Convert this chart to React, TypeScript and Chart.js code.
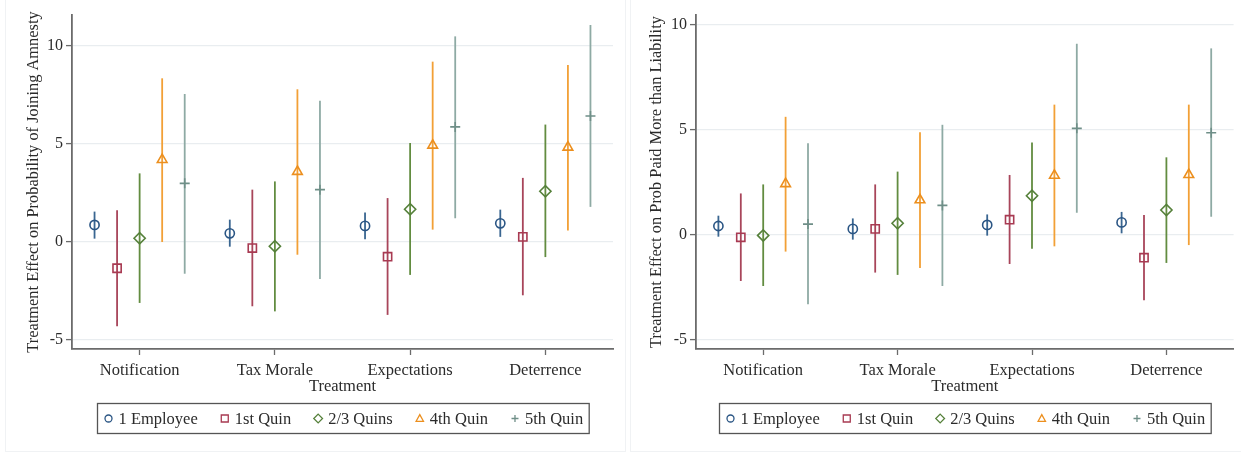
import React, { useEffect, useRef } from 'react';
import { Chart, registerables } from 'chart.js';

Chart.register(...registerables);

// ---------- data ----------
const CATEGORIES = ['Notification', 'Tax Morale', 'Expectations', 'Deterrence'];
const SERIES = ['1 Employee', '1st Quin', '2/3 Quins', '4th Quin', '5th Quin'];
const Y_TICKS = [-5, 0, 5, 10];

// Panel A: Treatment Effect on Probability of Joining Amnesty
const A_EMP1_EST = [0.87, 0.44, 0.82, 0.95];
const A_EMP1_LO = [0.17, -0.24, 0.14, 0.26];
const A_EMP1_HI = [1.55, 1.14, 1.51, 1.65];
const A_Q1_EST = [-1.34, -0.31, -0.75, 0.26];
const A_Q1_LO = [-4.3, -3.28, -3.72, -2.72];
const A_Q1_HI = [1.62, 2.67, 2.24, 3.27];
const A_Q23_EST = [0.19, -0.22, 1.67, 2.59];
const A_Q23_LO = [-3.11, -3.54, -1.68, -0.77];
const A_Q23_HI = [3.5, 3.09, 5.05, 5.99];
const A_Q4_EST = [4.2, 3.59, 4.93, 4.83];
const A_Q4_LO = [0.0, -0.65, 0.63, 0.58];
const A_Q4_HI = [8.35, 7.79, 9.2, 9.03];
const A_Q5_EST = [2.99, 2.67, 5.87, 6.43];
const A_Q5_LO = [-1.62, -1.89, 1.21, 1.79];
const A_Q5_HI = [7.55, 7.21, 10.49, 11.07];

// Panel B: Treatment Effect on Prob Paid More than Liability
const B_EMP1_EST = [0.43, 0.29, 0.48, 0.6];
const B_EMP1_LO = [-0.08, -0.22, -0.03, 0.08];
const B_EMP1_HI = [0.92, 0.79, 0.98, 1.1];
const B_Q1_EST = [-0.11, 0.29, 0.73, -1.08];
const B_Q1_LO = [-2.19, -1.79, -1.38, -3.11];
const B_Q1_HI = [1.98, 2.41, 2.86, 0.95];
const B_Q23_EST = [-0.02, 0.56, 1.87, 1.19];
const B_Q23_LO = [-2.43, -1.9, -0.65, -1.33];
const B_Q23_HI = [2.41, 3.02, 4.41, 3.7];
const B_Q4_EST = [2.44, 1.67, 2.84, 2.87];
const B_Q4_LO = [-0.79, -1.57, -0.54, -0.48];
const B_Q4_HI = [5.63, 4.89, 6.21, 6.21];
const B_Q5_EST = [0.52, 1.41, 5.08, 4.87];
const B_Q5_LO = [-3.3, -2.43, 1.06, 0.87];
const B_Q5_HI = [4.37, 5.25, 9.11, 8.89];

// ---------- styles ----------
const FONT = '"Liberation Serif", "Times New Roman", serif';
const LINE_COLORS = ['#3a6691', '#a8455a', '#628c40', '#f2a036', '#8eaaa4'];
const MARK_COLORS = ['#2a5584', '#a83a52', '#55803a', '#ec8f1e', '#6f8f88'];
const POINT_STYLES = ['circle', 'rect', 'rectRot', 'triangle', 'cross'];
const POINT_RADII = [4.6, 5.8, 5.6, 5.6, 5];
const OFFSETS = [-2 / 6, -1 / 6, 0, 1 / 6, 2 / 6];
const AXIS_COLOR = '#6b6b6b';
const GRID_COLOR = '#e9edf0';
const TEXT_COLOR = '#2b2b2b';

function drawMarker(ctx: CanvasRenderingContext2D, style: string, x: number, y: number, r: number) {
  ctx.beginPath();
  if (style === 'circle') {
    ctx.arc(x, y, r, 0, Math.PI * 2);
  } else if (style === 'rect') {
    ctx.rect(x - r, y - r, 2 * r, 2 * r);
  } else if (style === 'rectRot') {
    ctx.moveTo(x, y - r * 1.25);
    ctx.lineTo(x + r * 1.25, y);
    ctx.lineTo(x, y + r * 1.25);
    ctx.lineTo(x - r * 1.25, y);
    ctx.closePath();
  } else if (style === 'triangle') {
    ctx.moveTo(x, y - r * 1.1);
    ctx.lineTo(x + r * 1.05, y + r * 0.8);
    ctx.lineTo(x - r * 1.05, y + r * 0.8);
    ctx.closePath();
  } else {
    ctx.moveTo(x - r, y);
    ctx.lineTo(x + r, y);
    ctx.moveTo(x, y - r);
    ctx.lineTo(x, y + r);
  }
  ctx.stroke();
}

const errorBarPlugin = {
  id: 'errorBars',
  beforeDatasetsDraw(chart: any) {
    const { ctx } = chart;
    const yScale = chart.scales.y;
    ctx.save();
    chart.data.datasets.forEach((ds: any, i: number) => {
      const meta = chart.getDatasetMeta(i);
      ctx.strokeStyle = ds.lineColor;
      ctx.lineWidth = 1.8;
      meta.data.forEach((pt: any, j: number) => {
        const y1 = yScale.getPixelForValue(ds.lo[j]);
        const y2 = yScale.getPixelForValue(ds.hi[j]);
        ctx.beginPath();
        ctx.moveTo(pt.x, y1);
        ctx.lineTo(pt.x, y2);
        ctx.stroke();
      });
    });
    ctx.restore();
  },
};

const legendPlugin = {
  id: 'stataLegend',
  afterDraw(chart: any) {
    const { ctx, chartArea } = chart;
    const opts = chart.options.plugins.stataLegend;
    ctx.save();
    ctx.font = `16.5px ${FONT}`;
    const widths = SERIES.map((s) => ctx.measureText(s).width);
    const markerW = 10;
    const markerGap = 5;
    const itemGap = 22;
    const padX = 6;
    let total = padX * 2 + itemGap * (SERIES.length - 1);
    widths.forEach((w) => (total += markerW + markerGap + w));
    const cx = (chartArea.left + chartArea.right) / 2;
    const top = chartArea.bottom + opts.offsetTop;
    const h = opts.height;
    let x = Math.round(cx - total / 2) + 0.5;
    ctx.fillStyle = '#ffffff';
    ctx.fillRect(x, top, total, h);
    ctx.strokeStyle = '#555555';
    ctx.lineWidth = 1.3;
    ctx.strokeRect(x, top + 0.5, total, h);
    let cur = x + padX;
    const my = top + h / 2 + 0.5;
    SERIES.forEach((s, i) => {
      ctx.strokeStyle = MARK_COLORS[i];
      ctx.lineWidth = 1.3;
      drawMarker(ctx, POINT_STYLES[i], cur + markerW / 2, my, 3.5);
      cur += markerW + markerGap;
      ctx.fillStyle = TEXT_COLOR;
      ctx.textBaseline = 'middle';
      ctx.textAlign = 'left';
      ctx.fillText(s, cur, my + 1);
      cur += widths[i] + itemGap;
    });
    ctx.restore();
  },
};

type PanelProps = {
  width: number;
  est: number[][];
  lo: number[][];
  hi: number[][];
  yTitle: string;
  yMin: number;
  yMax: number;
  yAxisWidth: number;
  titleOffset: number;
  padRight: number;
};

function Panel(props: PanelProps) {
  const ref = useRef<HTMLCanvasElement | null>(null);
  useEffect(() => {
    if (!ref.current) return;
    const datasets = SERIES.map((name, i) => ({
      label: name,
      data: CATEGORIES.map((_, j) => ({ x: j + 1 + OFFSETS[i], y: props.est[i][j] })),
      lo: props.lo[i],
      hi: props.hi[i],
      lineColor: LINE_COLORS[i],
      pointStyle: POINT_STYLES[i],
      pointRadius: POINT_RADII[i],
      pointBorderWidth: 1.6,
      borderColor: MARK_COLORS[i],
      pointBorderColor: MARK_COLORS[i],
      backgroundColor: 'rgba(255,255,255,0)',
      pointBackgroundColor: 'rgba(255,255,255,0)',
      showLine: false,
    }));
    const chart = new Chart(ref.current, {
      type: 'scatter',
      data: { datasets } as any,
      plugins: [errorBarPlugin, legendPlugin],
      options: {
        animation: false,
        responsive: false,
        events: [],
        layout: { padding: { left: 0, right: props.padRight, top: 15, bottom: 56 } },
        plugins: {
          legend: { display: false },
          tooltip: { enabled: false },
          stataLegend: { offsetTop: 54, height: 30 },
        } as any,
        scales: {
          x: {
            type: 'linear',
            min: 0.5,
            max: 4.5,
            afterBuildTicks: (scale: any) => {
              scale.ticks = CATEGORIES.map((_, j) => ({ value: j + 1 }));
            },
            afterFit: (scale: any) => {
              scale.height = 50;
            },
            ticks: {
              autoSkip: false,
              maxRotation: 0,
              padding: 6,
              color: TEXT_COLOR,
              font: { family: FONT, size: 16.5 },
              callback: (v: any) => CATEGORIES[Math.round(Number(v)) - 1] ?? '',
            },
            grid: {
              display: true,
              drawOnChartArea: false,
              drawTicks: true,
              tickLength: 6,
              tickColor: AXIS_COLOR,
              tickWidth: 1.3,
            },
            border: { display: true, color: AXIS_COLOR, width: 1.8 },
            title: {
              display: true,
              text: 'Treatment',
              color: TEXT_COLOR,
              font: { family: FONT, size: 16.5 },
              padding: { top: 0, bottom: 2 },
            },
          },
          y: {
            type: 'linear',
            min: props.yMin,
            max: props.yMax,
            afterBuildTicks: (scale: any) => {
              scale.ticks = Y_TICKS.map((v) => ({ value: v }));
            },
            afterFit: (scale: any) => {
              scale.width = props.yAxisWidth;
            },
            ticks: {
              padding: 3,
              color: TEXT_COLOR,
              font: { family: FONT, size: 16 },
              callback: (v: any) => String(v),
            },
            grid: {
              color: GRID_COLOR,
              lineWidth: 1.2,
              drawTicks: true,
              tickLength: 6,
              tickColor: AXIS_COLOR,
              tickWidth: 1.3,
            },
            border: { display: true, color: AXIS_COLOR, width: 1.8 },
            title: {
              display: true,
              text: props.yTitle,
              color: TEXT_COLOR,
              font: { family: FONT, size: 16.4 },
              padding: { top: props.titleOffset, bottom: 0 },
            },
          },
        },
      } as any,
    });
    return () => chart.destroy();
  }, []);
  return <canvas ref={ref} width={props.width} height={455} style={{ display: 'block' }} />;
}

export default function App() {
  return (
    <div
      style={{
        position: 'fixed',
        left: 0,
        top: 0,
        width: 1241,
        height: 455,
        background: '#ffffff',
        overflow: 'hidden',
      }}
    >
      <div style={{ position: 'absolute', left: 5, top: -1, width: 621, height: 453, border: '1px solid #f0f2f4', boxSizing: 'border-box' }} />
      <div style={{ position: 'absolute', left: 630, top: -1, width: 612, height: 453, border: '1px solid #f0f2f4', boxSizing: 'border-box' }} />
      <div style={{ position: 'absolute', left: 0, top: 0 }}>
        <Panel
          width={625}
          est={[A_EMP1_EST, A_Q1_EST, A_Q23_EST, A_Q4_EST, A_Q5_EST]}
          lo={[A_EMP1_LO, A_Q1_LO, A_Q23_LO, A_Q4_LO, A_Q5_LO]}
          hi={[A_EMP1_HI, A_Q1_HI, A_Q23_HI, A_Q4_HI, A_Q5_HI]}
          yTitle="Treatment Effect on Probability of Joining Amnesty"
          yMin={-5.46}
          yMax={11.58}
          yAxisWidth={72}
          titleOffset={24}
          padRight={12}
        />
      </div>
      <div style={{ position: 'absolute', left: 630, top: 0 }}>
        <Panel
          width={611}
          est={[B_EMP1_EST, B_Q1_EST, B_Q23_EST, B_Q4_EST, B_Q5_EST]}
          lo={[B_EMP1_LO, B_Q1_LO, B_Q23_LO, B_Q4_LO, B_Q5_LO]}
          hi={[B_EMP1_HI, B_Q1_HI, B_Q23_HI, B_Q4_HI, B_Q5_HI]}
          yTitle="Treatment Effect on Prob Paid More than Liability"
          yMin={-5.43}
          yMax={10.48}
          yAxisWidth={66}
          titleOffset={17}
          padRight={5}
        />
      </div>
    </div>
  );
}
